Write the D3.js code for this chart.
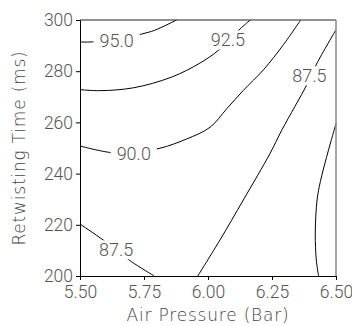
<!DOCTYPE html>
<html>
<head>
<meta charset="utf-8">
<script src="https://cdn.jsdelivr.net/npm/d3@7"></script>
<style>
  body { margin: 0; background: #fff; }
  text { font-family: Roboto, "Open Sans", sans-serif; font-weight: 300; fill: #555; }
  .title { font-family: "DejaVu Sans ExtraLight", "DejaVu Sans", sans-serif; font-weight: 200; letter-spacing: 0.8px; fill: #444; }
</style>
</head>
<body>
<svg width="352" height="326"></svg>
<script>
// contour lines: [air pressure, retwisting time]
const line950 = [[5.5, 291.4], [5.535, 291.4], [5.642, 292.3], [5.740, 294.5], [5.792, 296.0], [5.877, 300]];
const line925 = [[5.5, 272.8], [5.577, 272.4], [5.708, 273.5], [5.858, 277.7], [5.969, 283.2], [6.040, 288.1], [6.086, 292.6], [6.125, 296.5], [6.165, 300]];
const line900 = [[5.5, 250.8], [5.623, 248.2], [5.721, 248.5], [5.812, 249.9], [5.916, 253.5], [6.008, 258.1], [6.073, 265.3], [6.138, 272.5], [6.217, 280.6], [6.295, 290.4], [6.362, 300]];
const line875a = [[5.5, 220.3], [5.590, 214.1], [5.645, 209.9], [5.701, 205.6], [5.790, 200]];
const line875b = [[5.960, 200], [6.047, 214.1], [6.138, 229.7], [6.243, 248.0], [6.289, 257.1], [6.386, 274.7], [6.406, 279.0], [6.426, 283.2], [6.5, 296.2]];
const line850 = [[6.5, 259.5], [6.471, 249.3], [6.439, 236.9], [6.426, 229.7], [6.419, 216.7], [6.423, 206.3], [6.432, 200]];

const contourLines = [line950, line925, line900, line875a, line875b, line850];

const labelText = ["95.0", "92.5", "90.0", "87.5", "87.5"];
const labelAt = [[5.643, 292.0], [6.078, 292.2], [5.710, 247.9], [6.396, 278.2], [5.641, 210.2]];

const xTicks = [5.5, 5.75, 6.0, 6.25, 6.5];
const yTicks = [200, 220, 240, 260, 280, 300];

const svg = d3.select("svg");
const m = { left: 80, right: 336, top: 20, bottom: 276 };

const x = d3.scaleLinear().domain([5.5, 6.5]).range([m.left, m.right]);
const y = d3.scaleLinear().domain([200, 300]).range([m.bottom, m.top]);

const line = d3.line()
  .x(d => x(d[0]))
  .y(d => y(d[1]))
  .curve(d3.curveCatmullRom);

svg.append("g")
  .selectAll("path")
  .data(contourLines)
  .enter()
  .append("path")
  .attr("d", line)
  .attr("fill", "none")
  .attr("stroke", "#000")
  .attr("stroke-width", 1);

// inline labels, white box breaks the line
const labels = svg.append("g")
  .selectAll("g")
  .data(labelText)
  .enter()
  .append("g")
  .attr("transform", (d, i) => `translate(${x(labelAt[i][0])},${y(labelAt[i][1])})`);

labels.append("rect");
labels.append("text")
  .attr("text-anchor", "middle")
  .attr("dy", "0.36em")
  .style("font-size", "18px")
  .text(d => d);

labels.each(function() {
  const g = d3.select(this);
  const b = g.select("text").node().getBBox();
  g.select("rect")
    .attr("x", b.x - 6)
    .attr("y", b.y + 1)
    .attr("width", b.width + 12)
    .attr("height", b.height - 2)
    .attr("fill", "#fff");
});

// frame
svg.append("line")
  .attr("x1", m.left).attr("x2", m.right)
  .attr("y1", m.top).attr("y2", m.top)
  .attr("stroke", "#222");
svg.append("line")
  .attr("x1", m.right).attr("x2", m.right)
  .attr("y1", m.top).attr("y2", m.bottom)
  .attr("stroke", "#888")
  .attr("stroke-width", 1.5);

const xAxis = svg.append("g")
  .attr("transform", `translate(0,${m.bottom})`)
  .call(d3.axisBottom(x).tickValues(xTicks).tickFormat(d3.format(".2f")).tickSizeOuter(0).tickSize(4));

const yAxis = svg.append("g")
  .attr("transform", `translate(${m.left},0)`)
  .call(d3.axisLeft(y).tickValues(yTicks).tickSizeOuter(0).tickSize(4));

[xAxis, yAxis].forEach(ax => {
  ax.select(".domain").attr("stroke", "#000");
  ax.selectAll(".tick line").attr("stroke", "#000");
  ax.selectAll(".tick text")
    .style("font-size", "17.5px")
    .style("font-family", "Roboto, 'Open Sans', sans-serif")
    .attr("fill", "#555");
});
xAxis.selectAll(".tick text").attr("y", 10);
yAxis.selectAll(".tick text").attr("x", -7);

svg.append("text")
  .attr("class", "title")
  .attr("x", (m.left + m.right) / 2)
  .attr("y", 321)
  .attr("text-anchor", "middle")
  .style("font-size", "17px")
  .text("Air Pressure (Bar)");

svg.append("text")
  .attr("class", "title")
  .attr("transform", `translate(25,${(m.top + m.bottom) / 2}) rotate(-90)`)
  .attr("text-anchor", "middle")
  .style("font-size", "17px")
  .text("Retwisting Time (ms)");
</script>
</body>
</html>
